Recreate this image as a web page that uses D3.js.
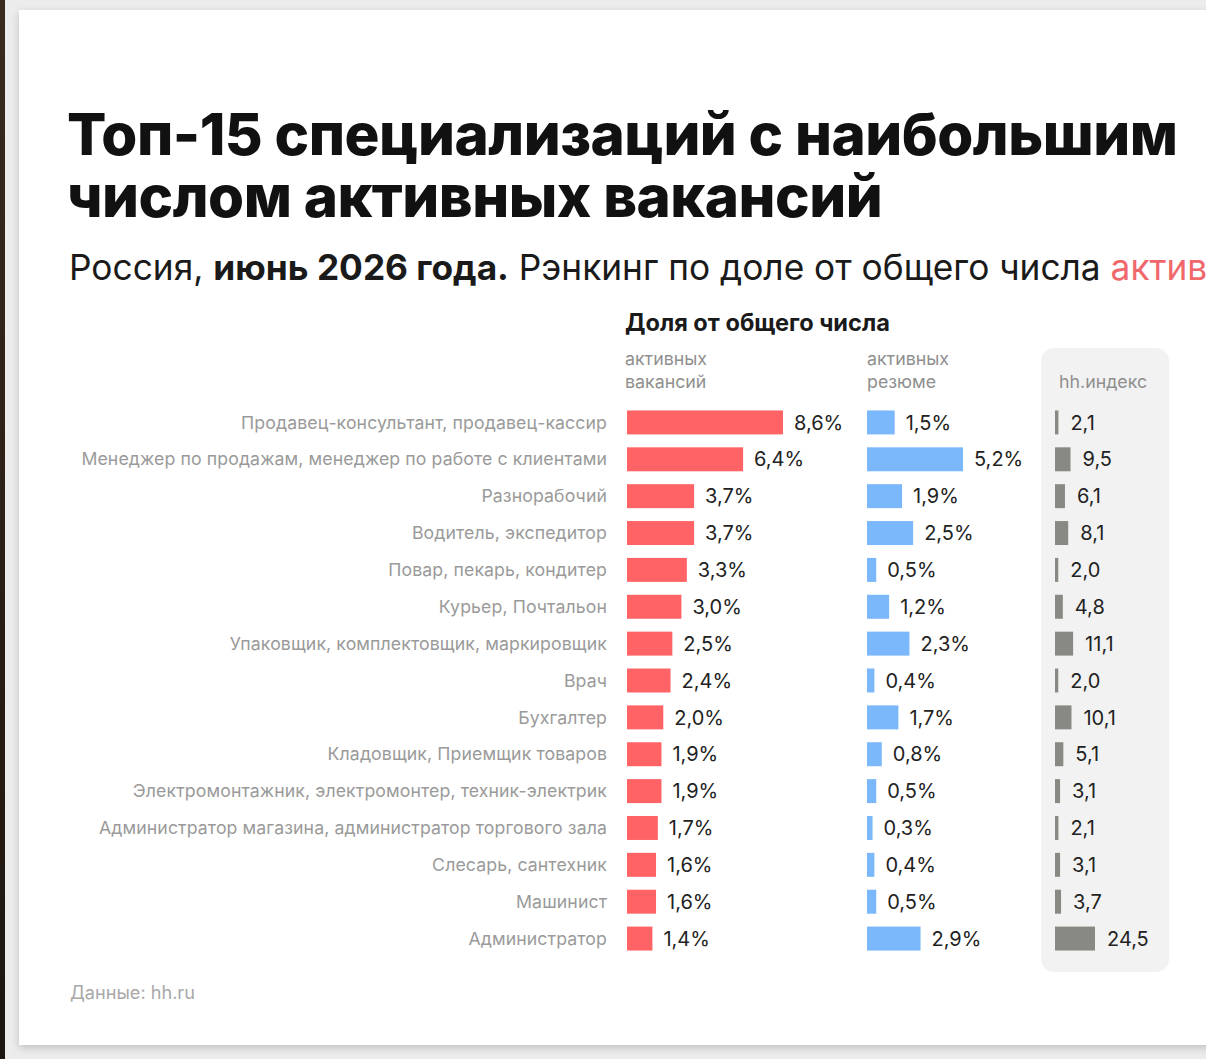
<!DOCTYPE html>
<html><head><meta charset="utf-8">
<script src="https://cdn.jsdelivr.net/npm/d3@7"></script>
<style>
html,body{margin:0;padding:0;width:1206px;height:1059px;overflow:hidden;background:#ececec;}
#strip{position:absolute;left:0;top:0;width:5px;height:1059px;background:linear-gradient(#3a2a1e,#1c1510);}
#card{position:absolute;left:19px;top:10px;width:1300px;height:1035px;background:#fff;box-shadow:0 3px 8px rgba(0,0,0,0.18);}
svg{position:absolute;left:0;top:0;}
</style></head>
<body>
<div id="strip"></div>
<div id="card"></div>
<svg id="chart" width="1206" height="1059"></svg>
<script>
const categories = [
  "Продавец-консультант, продавец-кассир",
  "Менеджер по продажам, менеджер по работе с клиентами",
  "Разнорабочий",
  "Водитель, экспедитор",
  "Повар, пекарь, кондитер",
  "Курьер, Почтальон",
  "Упаковщик, комплектовщик, маркировщик",
  "Врач",
  "Бухгалтер",
  "Кладовщик, Приемщик товаров",
  "Электромонтажник, электромонтер, техник-электрик",
  "Администратор магазина, администратор торгового зала",
  "Слесарь, сантехник",
  "Машинист",
  "Администратор"
];
const vacancies = [8.6, 6.4, 3.7, 3.7, 3.3, 3.0, 2.5, 2.4, 2.0, 1.9, 1.9, 1.7, 1.6, 1.6, 1.4];
const resumes   = [1.5, 5.2, 1.9, 2.5, 0.5, 1.2, 2.3, 0.4, 1.7, 0.8, 0.5, 0.3, 0.4, 0.5, 2.9];
const hhIndex   = [2.1, 9.5, 6.1, 8.1, 2.0, 4.8, 11.1, 2.0, 10.1, 5.1, 3.1, 2.1, 3.1, 3.7, 24.5];

const titleLines = ["Топ-15 специализаций с наибольшим", "числом активных вакансий"];
const subtitleParts = [
  {t:"Россия, ", w:400, c:"#1a1a1a"},
  {t:"июнь 2026 года.", w:700, c:"#1a1a1a"},
  {t:" Рэнкинг по доле от общего числа ", w:400, c:"#1a1a1a"},
  {t:"активных вакансий", w:400, c:"#f0686b"}
];
const fmt = v => v.toFixed(1).replace(".", ",");

const svg = d3.select("#chart");
const FONT = "Inter, 'Noto Sans', sans-serif";

// fit helper: scale font-size so text width equals target
function fit(sel, target) {
  const fs = +sel.attr("font-size");
  const w = sel.node().getComputedTextLength();
  sel.attr("font-size", fs * target / w);
  return fs * target / w;
}

// Title
const title = svg.append("g").attr("font-family", FONT).attr("font-weight", 800).attr("fill", "#111");
const t1 = title.append("text").attr("x", 67).attr("y", 155).attr("font-size", 56).style("letter-spacing","-0.5px").text(titleLines[0]);
const tfs = fit(t1, 1110);
title.append("text").attr("x", 67).attr("y", 217).attr("font-size", tfs).style("letter-spacing","-0.5px").text(titleLines[1]);

// Subtitle
const sub = svg.append("text").attr("x", 69).attr("y", 280).attr("font-family", FONT).attr("font-size", 32);
subtitleParts.forEach(p => sub.append("tspan").attr("font-weight", p.w).attr("fill", p.c).text(p.t));
const tsp = sub.selectAll("tspan").nodes();
let pre = 0; for (let i = 0; i < 3; i++) pre += tsp[i].getComputedTextLength();
sub.attr("font-size", 32 * (1111 - 69) / pre);

// hh panel (behind its header)
svg.append("rect").attr("x", 1041).attr("y", 348).attr("width", 128).attr("height", 624).attr("rx", 13).attr("fill", "#f2f2f2");

// Column headers
const hdr = svg.append("g").attr("font-family", FONT);
const h0 = hdr.append("text").attr("x", 625).attr("y", 331).attr("font-size", 21).attr("font-weight", 700).attr("fill", "#1a1a1a").text("Доля от общего числа");
fit(h0, 265);
const gray = "#8f8f8f";
const HS = 17.8;
[["активных", 365], ["вакансий", 388]].forEach(([s, yy]) => hdr.append("text").attr("x", 625).attr("y", yy).attr("font-size", HS).attr("fill", gray).text(s));
[["активных", 365], ["резюме", 388]].forEach(([s, yy]) => hdr.append("text").attr("x", 867).attr("y", yy).attr("font-size", HS).attr("fill", gray).text(s));
hdr.append("text").attr("x", 1059).attr("y", 388).attr("font-size", HS).attr("fill", gray).text("hh.индекс");

// Scales
const y = d3.scaleBand().domain(categories).range([404, 957]).paddingInner(0.35).paddingOuter(0.175);
const xV = d3.scaleLinear().domain([0, 8.6]).range([0, 156]);
const xR = d3.scaleLinear().domain([0, 5.2]).range([0, 96]);
const xH = d3.scaleLinear().domain([0, 24.5]).range([0, 40]);

const rows = svg.append("g").attr("font-family", FONT);
const r = rows.selectAll("g.row").data(categories.map((c, i) => ({c, v: vacancies[i], r: resumes[i], h: hhIndex[i]})))
  .join("g").attr("class", "row").attr("transform", d => `translate(0,${y(d.c)})`);
const bh = y.bandwidth();
const cy = bh / 2;

r.append("text").attr("x", 607).attr("y", cy).attr("dy", "0.35em").attr("text-anchor", "end")
  .attr("font-size", 17.7).style("letter-spacing", "0.1px").attr("fill", "#9a9a9a").text(d => d.c);

r.append("rect").attr("x", 627).attr("y", 0).attr("height", bh).attr("width", d => xV(d.v)).attr("fill", "#ff6366");
r.append("text").attr("x", d => 627 + xV(d.v) + 11).attr("y", cy).attr("dy", "0.36em").attr("font-size", 20).attr("fill", "#222").text(d => fmt(d.v) + "%");

r.append("rect").attr("x", 867).attr("y", 0).attr("height", bh).attr("width", d => xR(d.r)).attr("fill", "#7ab7fb");
r.append("text").attr("x", d => 867 + xR(d.r) + 11).attr("y", cy).attr("dy", "0.36em").attr("font-size", 20).attr("fill", "#222").text(d => fmt(d.r) + "%");

r.append("rect").attr("x", 1055).attr("y", 0).attr("height", bh).attr("width", d => Math.max(3, xH(d.h))).attr("fill", "#898983");
r.append("text").attr("x", d => 1055 + Math.max(3, xH(d.h)) + 12).attr("y", cy).attr("dy", "0.36em").attr("font-size", 20).attr("fill", "#222").text(d => fmt(d.h));

// Footer
const ft = svg.append("text").attr("x", 70).attr("y", 999).attr("font-family", FONT).attr("font-size", 16.5).attr("fill", "#a8a8a8").text("Данные: hh.ru");
fit(ft, 125);
</script>
</body></html>
